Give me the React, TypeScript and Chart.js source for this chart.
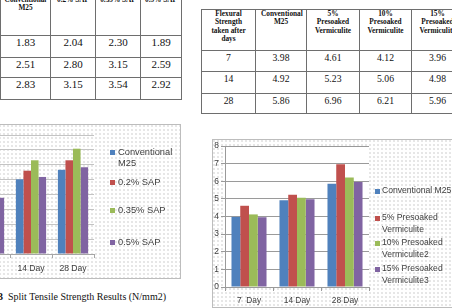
import React, { useEffect, useRef } from 'react';
import { Chart, registerables } from 'chart.js';

Chart.register(...registerables);

// Split tensile strength (N/mm2)
const splitDays = ['7', '14', '28'];
const splitDayLabels = ['7 Day', '14 Day', '28 Day'];
const splitSeriesNames = ['Conventional M25', '0.2% SAP', '0.35% SAP', '0.5% SAP'];
const splitConventional = [1.83, 2.51, 2.83];
const splitSap02 = [2.04, 2.8, 3.15];
const splitSap035 = [2.3, 3.15, 3.54];
const splitSap05 = [1.89, 2.59, 2.92];
const splitAxisMax = 4;
const splitAxisStep = 0.5;

// Flexural strength (N/mm2)
const flexDays = ['7', '14', '28'];
const flexDayLabels = ['7  Day', '14 Day', '28 Day'];
const flexTableHeads = ['Conventional M25', '5% Presoaked Vermiculite', '10% Presoaked Vermiculite', '15% Presoaked Vermiculite'];
const flexLegendNames = ['Conventional M25', '5% Presoaked Vermiculite', '10% Presoaked Vermiculite2', '15% Presoaked Vermiculite3'];
const flexConventional = [3.98, 4.92, 5.86];
const flexVerm5 = [4.61, 5.23, 6.96];
const flexVerm10 = [4.12, 5.06, 6.21];
const flexVerm15 = [3.96, 4.98, 5.96];
const flexAxisMax = 8;
const flexAxisStep = 1;

const seriesColors = ['#4F81BD', '#C0504D', '#9BBB59', '#8064A2'];

const splitValues = [splitConventional, splitSap02, splitSap035, splitSap05];
const flexValues = [flexConventional, flexVerm5, flexVerm10, flexVerm15];

const dotted: React.CSSProperties = {
  backgroundColor: '#fff',
  backgroundImage: 'radial-gradient(circle at 1px 1px, #dedede 0.6px, transparent 1px)',
  backgroundSize: '4px 4px',
};

const plotFill = {
  id: 'plotFill',
  beforeDraw(chart: any, _args: any, opts: any) {
    if (!opts || !opts.color) return;
    const { ctx, chartArea: a } = chart;
    ctx.save();
    ctx.fillStyle = opts.color;
    ctx.fillRect(a.left, a.top, a.right - a.left, a.bottom - a.top);
    ctx.restore();
  },
};

type BarChartProps = {
  labels: string[];
  names: string[];
  values: number[][];
  yMax: number;
  yStep: number;
  width: number;
  height: number;
  pad: { top: number; right: number; left: number; bottom: number };
  yAxisWidth: number;
  xAxisHeight: number;
  gridColor: string;
  axisColor: string;
  plotColor?: string;
  categoryPercentage: number;
  fontSize: number;
  style: React.CSSProperties;
};

function BarChart(p: BarChartProps) {
  const ref = useRef<HTMLCanvasElement | null>(null);
  useEffect(() => {
    if (!ref.current) return;
    const font = { family: "'Liberation Sans', Arial, sans-serif", size: p.fontSize };
    const chart = new Chart(ref.current, {
      type: 'bar',
      data: {
        labels: p.labels,
        datasets: p.names.map((name, i) => ({
          label: name,
          data: p.values[i],
          backgroundColor: seriesColors[i],
          borderWidth: 0,
          categoryPercentage: p.categoryPercentage,
          barPercentage: 1,
        })),
      },
      options: {
        animation: false,
        responsive: false,
        maintainAspectRatio: false,
        layout: { padding: p.pad },
        plugins: {
          legend: { display: false },
          tooltip: { enabled: false },
          plotFill: { color: p.plotColor },
        } as any,
        scales: {
          x: {
            grid: { display: true, drawOnChartArea: false, drawTicks: true, tickLength: 4, color: p.axisColor },
            border: { display: true, color: p.axisColor },
            ticks: { font, color: '#404040', padding: 5, maxRotation: 0, autoSkip: false },
            afterFit: (s: any) => {
              s.height = p.xAxisHeight;
            },
          },
          y: {
            min: 0,
            max: p.yMax,
            ticks: { stepSize: p.yStep, font, color: '#404040', padding: 2 },
            grid: { color: p.gridColor, drawTicks: true, tickLength: 4 },
            border: { display: true, color: p.axisColor },
            afterFit: (s: any) => {
              s.width = p.yAxisWidth;
            },
          },
        },
      },
      plugins: [plotFill],
    });
    return () => chart.destroy();
  }, []);
  return (
    <canvas
      ref={ref}
      width={p.width}
      height={p.height}
      style={{ position: 'absolute', width: p.width, height: p.height, ...p.style }}
    />
  );
}

type LegendProps = {
  names: string[];
  lineCenters: number[];
  squareLeft: number;
  textLeft: number;
  textWidth: number;
  fontSize: number;
  lineHeight: number;
};

function Legend(p: LegendProps) {
  return (
    <>
      {p.names.map((name, i) => (
        <div key={name} style={{ position: 'absolute', left: 0, top: p.lineCenters[i] - p.lineHeight / 2 }}>
          <div
            style={{
              position: 'absolute',
              left: p.squareLeft,
              top: p.lineHeight / 2 - 2.5,
              width: 5,
              height: 5,
              background: seriesColors[i],
            }}
          />
          <div
            style={{
              position: 'absolute',
              left: p.textLeft,
              top: 0,
              width: p.textWidth,
              fontFamily: "'Liberation Sans', Arial, sans-serif",
              fontSize: p.fontSize,
              lineHeight: p.lineHeight + 'px',
              color: '#404040',
              whiteSpace: 'normal',
            }}
          >
            {name}
          </div>
        </div>
      ))}
    </>
  );
}

type TableProps = {
  left: number;
  top: number;
  colWidths: number[];
  rowHeights: number[];
  heads: string[];
  rows: string[][];
  valueFont: number;
  valuePadTop: number;
  headPadTop: number;
  headPadSide: number;
};

const border = '1px solid #6e6e6e';

function DataTable(p: TableProps) {
  const width = p.colWidths.reduce((a, b) => a + b, 0);
  return (
    <table
      style={{
        position: 'absolute',
        left: p.left,
        top: p.top,
        width,
        borderCollapse: 'collapse',
        tableLayout: 'fixed',
        fontFamily: "'Liberation Serif', 'Times New Roman', serif",
        color: '#111',
      }}
    >
      <colgroup>
        {p.colWidths.map((w, i) => (
          <col key={i} style={{ width: w }} />
        ))}
      </colgroup>
      <tbody>
        <tr style={{ height: p.rowHeights[0] }}>
          {p.heads.map((h) => (
            <th
              key={h}
              style={{
                border,
                verticalAlign: 'top',
                padding: `${p.headPadTop}px ${p.headPadSide}px 0 ${p.headPadSide}px`,
                fontSize: 7.3,
                lineHeight: '8.4px',
                fontWeight: 'bold',
                textAlign: 'center',
              }}
            >
              {h}
            </th>
          ))}
        </tr>
        {p.rows.map((r, ri) => (
          <tr key={ri} style={{ height: p.rowHeights[ri + 1] }}>
            {r.map((c, ci) => (
              <td
                key={ci}
                style={{
                  border,
                  verticalAlign: 'top',
                  padding: `${p.valuePadTop}px 2px 0 2px`,
                  fontSize: p.valueFont,
                  lineHeight: '11px',
                  textAlign: 'center',
                }}
              >
                {c}
              </td>
            ))}
          </tr>
        ))}
      </tbody>
    </table>
  );
}

export default function App() {
  const splitRows = splitDays.map((d, i) => [d, ...splitValues.map((s) => s[i].toFixed(2))]);
  const flexRows = flexDays.map((d, i) => [d, ...flexValues.map((s) => s[i].toFixed(2))]);

  return (
    <div
      style={{
        position: 'fixed',
        left: 0,
        top: 0,
        width: 452,
        height: 308,
        overflow: 'hidden',
        background: '#fff',
      }}
    >
      <DataTable
        left={-50}
        top={-8}
        colWidths={[50, 50, 45, 45, 41]}
        rowHeights={[43, 22, 20, 22]}
        heads={['Days', ...splitSeriesNames]}
        rows={splitRows}
        valueFont={11}
        valuePadTop={1}
        headPadTop={3}
        headPadSide={1}
      />
      <DataTable
        left={201}
        top={9}
        colWidths={[54, 51, 53, 52, 52]}
        rowHeights={[41, 21, 22, 20]}
        heads={['Flexural Strength taken after days', ...flexTableHeads]}
        rows={flexRows}
        valueFont={9.7}
        valuePadTop={1}
        headPadTop={0}
        headPadSide={5}
      />

      {/* Split tensile strength chart */}
      <div
        style={{
          position: 'absolute',
          left: -70,
          top: 124,
          width: 251,
          height: 155,
          border: '1px solid #bdbdbd',
          boxSizing: 'border-box',
          ...dotted,
        }}
      />
      <BarChart
        labels={splitDayLabels}
        names={splitSeriesNames}
        values={splitValues}
        yMax={splitAxisMax}
        yStep={splitAxisStep}
        width={241}
        height={155}
        pad={{ top: 11, right: 87, left: 0, bottom: 0 }}
        yAxisWidth={28}
        xAxisHeight={25}
        gridColor="#c4c4c4"
        axisColor="#a6a6a6"
        categoryPercentage={0.72}
        fontSize={8.6}
        style={{ left: -60, top: 124 }}
      />
      <Legend
        names={splitSeriesNames}
        lineCenters={[152, 182, 210, 242]}
        squareLeft={110}
        textLeft={118}
        textWidth={60}
        fontSize={9.3}
        lineHeight={11}
      />
      <div
        style={{
          position: 'absolute',
          left: 8,
          top: 290,
          fontFamily: "'Liberation Serif', 'Times New Roman', serif",
          fontSize: 10,
          lineHeight: '14px',
          color: '#111',
          whiteSpace: 'nowrap',
        }}
      >
        <span style={{ position: 'absolute', right: '100%', marginRight: 5, fontWeight: 'bold' }}>Figure 3</span>
        Split Tensile Strength Results (N/mm2)
      </div>

      {/* Flexural strength chart */}
      <div
        style={{
          position: 'absolute',
          left: 212,
          top: 139,
          width: 260,
          height: 169,
          border: '1px solid #bdbdbd',
          boxSizing: 'border-box',
          ...dotted,
        }}
      />
      <BarChart
        labels={flexDayLabels}
        names={flexLegendNames}
        values={flexValues}
        yMax={flexAxisMax}
        yStep={flexAxisStep}
        width={240}
        height={168}
        pad={{ top: 6, right: 83, left: 0, bottom: 0 }}
        yAxisWidth={13}
        xAxisHeight={20}
        gridColor="#9a9a9a"
        axisColor="#9a9a9a"
        plotColor="#ffffff"
        categoryPercentage={0.73}
        fontSize={8.4}
        style={{ left: 212, top: 139 }}
      />
      <Legend
        names={flexLegendNames}
        lineCenters={[191, 218, 243, 269]}
        squareLeft={375}
        textLeft={382}
        textWidth={74}
        fontSize={8.6}
        lineHeight={11.5}
      />
    </div>
  );
}
